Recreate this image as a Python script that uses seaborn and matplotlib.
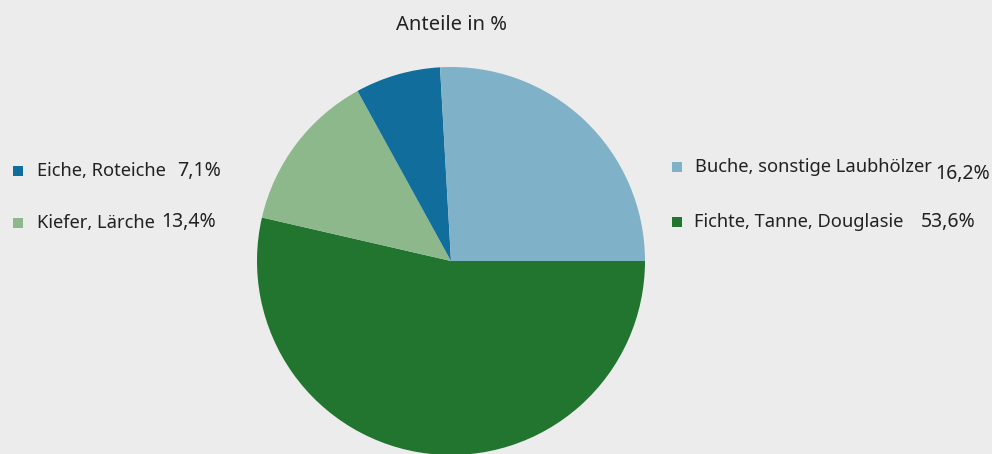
import matplotlib.pyplot as plt
import seaborn as sns
from matplotlib.patches import Rectangle

# 데이터 (Anteile in %)
categories = ["Fichte, Tanne, Douglasie", "Kiefer, Lärche", "Eiche, Roteiche", "Buche, sonstige Laubhölzer"]
wedge_sizes = [53.6, 13.4, 7.1, 25.9]   # Anteile wie im Bild gezeichnet
shown_pct = ["53,6%", "13,4%", "7,1%", "16,2%"]   # beschriftete Werte
colors = ["#21752f", "#8db88c", "#106d9c", "#7fb2c9"]

sns.set_theme(style="white")
plt.rcParams["font.family"] = ["Noto Sans", "DejaVu Sans"]
bg = "#ebeceb"
txt = "#222222"

fig = plt.figure(figsize=(9.92, 4.54), dpi=100)
fig.patch.set_facecolor(bg)

W, H = 992, 454
cx, cy, r = 451, 261, 194
ax = fig.add_axes([(cx - r) / W, (H - cy - r) / H, 2 * r / W, 2 * r / H])
ax.set_facecolor(bg)
ax.pie(wedge_sizes, colors=colors, startangle=0, counterclock=False,
       wedgeprops=dict(linewidth=0), radius=1)
ax.set_xlim(-1, 1)
ax.set_ylim(-1, 1)
ax.set_aspect("equal")
ax.axis("off")

fig.text(cx / W, 1 - 25 / H, "Anteile in %", ha="center", va="center",
         fontsize=14.5, color=txt)

# Legende: (marker x, marker y, text x, pct x, pct y-offset)
legend_pos = {
    "Eiche, Roteiche": (13, 171, 37, 177, 0),
    "Kiefer, Lärche": (13, 223, 37, 161, -1),
    "Buche, sonstige Laubhölzer": (672, 167, 695, 935, 7),
    "Fichte, Tanne, Douglasie": (672, 222, 694, 921, 0),
}
for cat, col, pct in zip(categories, colors, shown_pct):
    mx, my, tx, px, dy = legend_pos[cat]
    fig.patches.append(Rectangle((mx / W, 1 - (my + 5) / H), 10 / W, 10 / H,
                                 transform=fig.transFigure, facecolor=col,
                                 edgecolor="none"))
    fig.text(tx / W, 1 - my / H, cat, ha="left", va="center", fontsize=13.2, color=txt)
    fig.text(px / W, 1 - (my + dy) / H, pct, ha="left", va="center", fontsize=14, color=txt)

fig.savefig("out.png", dpi=100, facecolor=bg)
